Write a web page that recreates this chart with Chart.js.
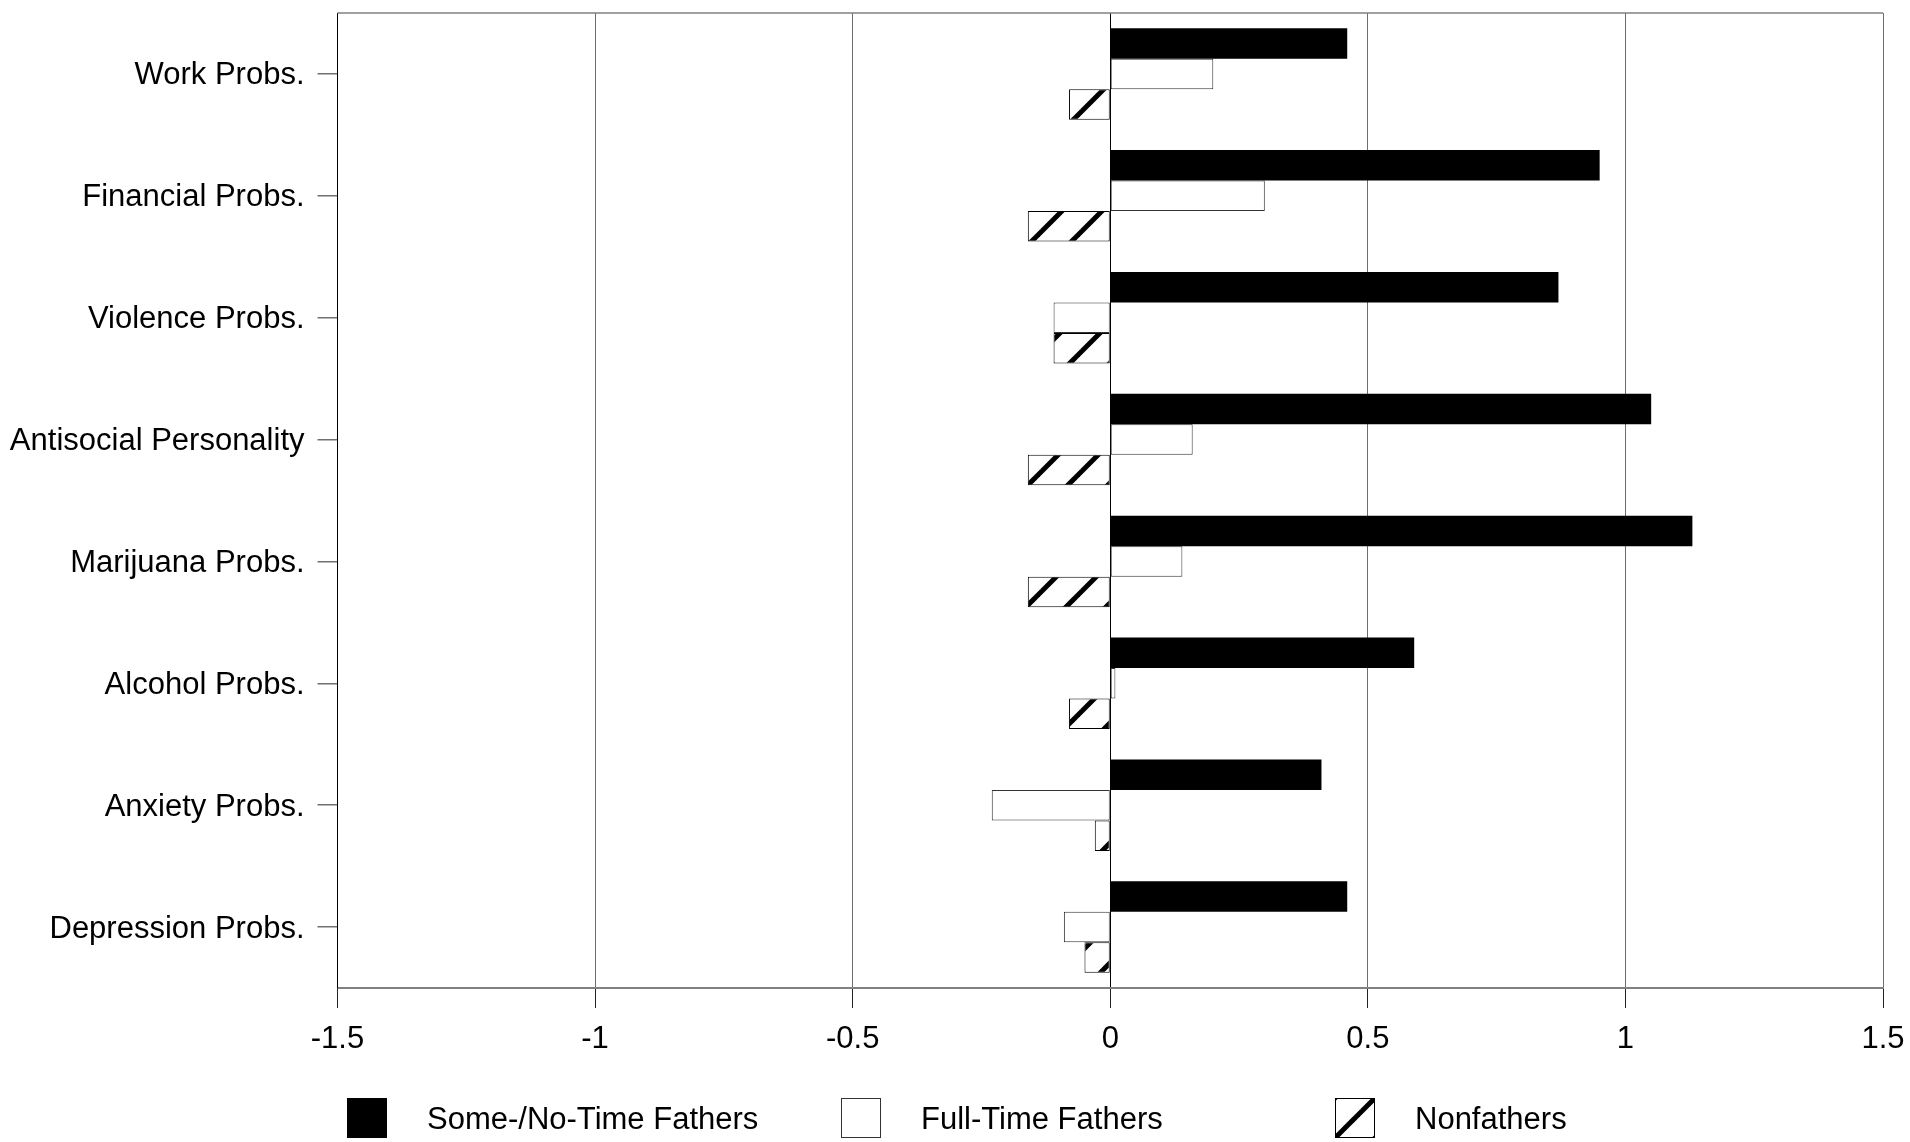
<!DOCTYPE html>
<html>
<head>
<meta charset="utf-8">
<title>Problem outcomes by fatherhood status</title>
<script src="https://cdn.jsdelivr.net/npm/chart.js@4.4.1/dist/chart.umd.min.js"></script>
<style>
  html, body { margin: 0; padding: 0; background: #fff; }
  canvas { display: block; }
</style>
</head>
<body>
<canvas id="c" width="1910" height="1142"></canvas>
<script>
// Outcome categories, listed top to bottom
const categories = [
  'Work Probs.',
  'Financial Probs.',
  'Violence Probs.',
  'Antisocial Personality',
  'Marijuana Probs.',
  'Alcohol Probs.',
  'Anxiety Probs.',
  'Depression Probs.'
];

const seriesNames = ['Some-/No-Time Fathers', 'Full-Time Fathers', 'Nonfathers'];

const someNoTimeFathers = [0.46, 0.95, 0.87, 1.05, 1.13, 0.59, 0.41, 0.46];
const fullTimeFathers   = [0.20, 0.30, -0.11, 0.16, 0.14, 0.01, -0.23, -0.09];
const nonfathers        = [-0.08, -0.16, -0.11, -0.16, -0.16, -0.08, -0.03, -0.05];

const xTickLabels = ['-1.5', '-1', '-0.5', '0', '0.5', '1', '1.5'];

const canvas = document.getElementById('c');
const ctx = canvas.getContext('2d');

// Diagonal "/" hatch used for the Nonfathers bars
function makeHatch() {
  const P = 40;
  const tile = document.createElement('canvas');
  tile.width = P; tile.height = P;
  const g = tile.getContext('2d');
  g.fillStyle = '#ffffff';
  g.fillRect(0, 0, P, P);
  g.strokeStyle = '#000000';
  g.lineWidth = 5;
  for (const s of [33 - P, 33, 33 + P]) {
    g.beginPath();
    g.moveTo(s + 12, -12);
    g.lineTo(s - P - 12, P + 12);
    g.stroke();
  }
  return ctx.createPattern(tile, 'repeat');
}
const hatch = makeHatch();

Chart.defaults.font.family = '"Liberation Sans", Arial, Helvetica, sans-serif';
Chart.defaults.color = '#000';

// Top frame line of the plot area
const frameTop = {
  id: 'frameTop',
  afterDraw(chart) {
    const a = chart.chartArea;
    const c = chart.ctx;
    c.save();
    c.strokeStyle = '#808080';
    c.lineWidth = 1.5;
    c.beginPath();
    c.moveTo(a.left, a.top);
    c.lineTo(a.right, a.top);
    c.stroke();
    c.restore();
  }
};

// Evenly spaced legend row under the axis
const gridLegend = {
  id: 'gridLegend',
  afterDraw(chart, args, opts) {
    const c = chart.ctx;
    c.save();
    c.font = opts.fontSize + 'px ' + Chart.defaults.font.family;
    c.textBaseline = 'middle';
    c.textAlign = 'left';
    chart.data.datasets.forEach((ds, i) => {
      const x = opts.x0 + i * opts.step;
      const y = opts.y;
      const b = opts.box;
      c.fillStyle = ds.backgroundColor;
      c.fillRect(x, y - b / 2, b, b);
      if (ds.borderWidth) {
        c.strokeStyle = ds.borderColor;
        c.lineWidth = 1;
        c.strokeRect(x + 0.5, y - b / 2 + 0.5, b - 1, b - 1);
      }
      c.fillStyle = '#000';
      c.fillText(ds.label, x + b + opts.gap, y + 2);
    });
    c.restore();
  }
};

new Chart(ctx, {
  type: 'bar',
  data: {
    labels: categories,
    datasets: [
      {
        label: seriesNames[0],
        data: someNoTimeFathers,
        backgroundColor: '#000000',
        borderColor: '#000000',
        borderWidth: 0
      },
      {
        label: seriesNames[1],
        data: fullTimeFathers,
        backgroundColor: '#ffffff',
        borderColor: '#333333',
        borderWidth: 1
      },
      {
        label: seriesNames[2],
        data: nonfathers,
        backgroundColor: hatch,
        borderColor: '#000000',
        borderWidth: 1
      }
    ]
  },
  options: {
    indexAxis: 'y',
    responsive: false,
    devicePixelRatio: 1,
    animation: false,
    datasets: {
      bar: {
        categoryPercentage: 0.75,
        barPercentage: 1.0,
        borderSkipped: false
      }
    },
    layout: {
      padding: { left: 0, right: 27, top: 13, bottom: 84 }
    },
    plugins: {
      legend: { display: false },
      tooltip: { enabled: false },
      gridLegend: { x0: 347, step: 494, y: 1118, box: 40, gap: 40, fontSize: 31 }
    },
    scales: {
      x: {
        type: 'linear',
        min: -1.5,
        max: 1.5,
        afterFit(scale) {
          scale.height = 70;
          scale.paddingLeft = 0;
          scale.paddingRight = 0;
        },
        ticks: {
          stepSize: 0.5,
          padding: 13,
          font: { size: 31 },
          color: '#000',
          maxRotation: 0,
          callback: (value, index) => xTickLabels[index]
        },
        grid: {
          color: (c) => (c.tick && (c.tick.value === 0 || c.tick.value === -1.5)) ? '#000000' : '#6e6e6e',
          lineWidth: 1,
          tickLength: 20,
          tickColor: '#222222'
        },
        border: { display: true, color: '#808080', width: 2 }
      },
      y: {
        type: 'category',
        afterFit(scale) {
          scale.width = 337.5;
          scale.paddingTop = 0;
          scale.paddingBottom = 0;
        },
        ticks: {
          padding: 13,
          labelOffset: 2,
          font: { size: 31 },
          color: '#000'
        },
        grid: {
          offset: false,
          drawOnChartArea: false,
          drawTicks: true,
          tickLength: 20,
          tickColor: '#707070',
          lineWidth: 1.5
        },
        border: { display: true, color: '#000000', width: 1 }
      }
    }
  },
  plugins: [frameTop, gridLegend]
});
</script>
</body>
</html>
